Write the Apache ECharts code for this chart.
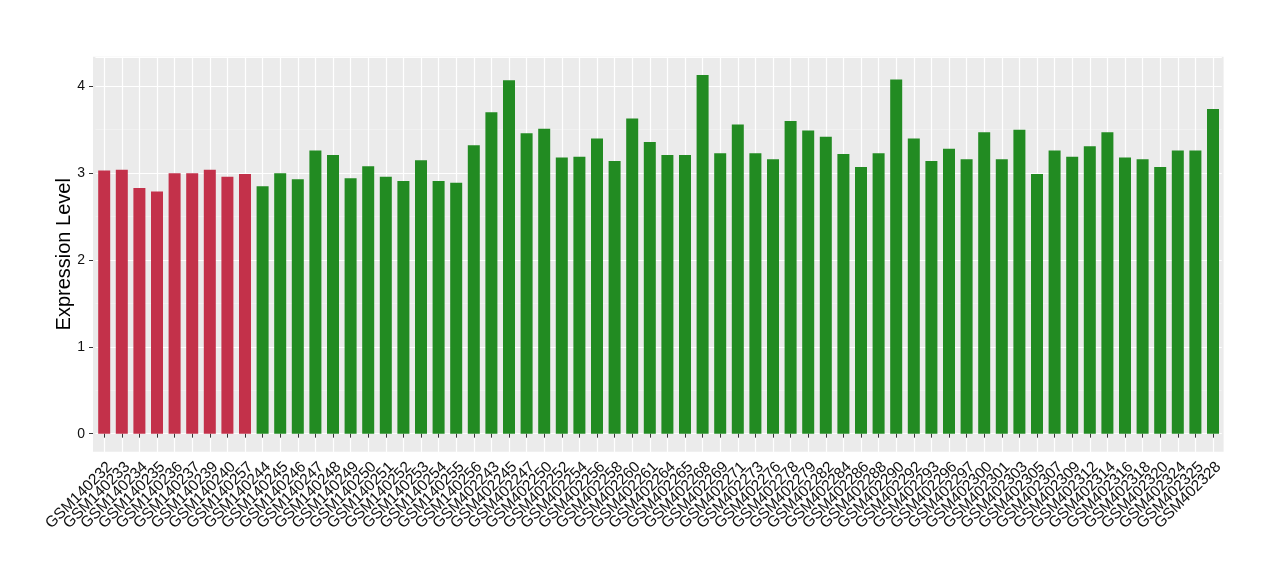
<!DOCTYPE html>
<html>
<head>
<meta charset="utf-8">
<script src="https://cdn.jsdelivr.net/npm/echarts@6/dist/echarts.min.js"></script>
<style>
html,body{margin:0;padding:0;background:#fff;}
#chart{width:1280px;height:580px;}
</style>
</head>
<body>
<div id="chart"></div>
<script>
const categories = [
  "GSM140232","GSM140233","GSM140234","GSM140235","GSM140236","GSM140237","GSM140239","GSM140240","GSM140257",
  "GSM140244","GSM140245","GSM140246","GSM140247","GSM140248","GSM140249","GSM140250","GSM140251","GSM140252",
  "GSM140253","GSM140254","GSM140255","GSM140256",
  "GSM402243","GSM402245","GSM402247","GSM402250","GSM402252","GSM402254","GSM402256","GSM402258","GSM402260",
  "GSM402261","GSM402264","GSM402265","GSM402268","GSM402269","GSM402271","GSM402273","GSM402276","GSM402278",
  "GSM402279","GSM402282","GSM402284","GSM402286","GSM402288","GSM402290","GSM402292","GSM402293","GSM402296",
  "GSM402297","GSM402300","GSM402301","GSM402303","GSM402305","GSM402307","GSM402309","GSM402312","GSM402314",
  "GSM402316","GSM402318","GSM402320","GSM402324","GSM402325","GSM402328"
];
const values = [
  3.03,3.04,2.83,2.79,3.00,3.00,3.04,2.96,2.99,
  2.85,3.00,2.93,3.26,3.21,2.94,3.08,2.96,2.91,
  3.15,2.91,2.89,3.32,
  3.70,4.07,3.46,3.51,3.18,3.19,3.40,3.14,3.63,
  3.36,3.21,3.21,4.13,3.23,3.56,3.23,3.16,3.60,
  3.49,3.42,3.22,3.07,3.23,4.08,3.40,3.14,3.28,
  3.16,3.47,3.16,3.50,2.99,3.26,3.19,3.31,3.47,
  3.18,3.16,3.07,3.26,3.26,3.74
];
const groupCount = 9; // first 9 samples are the red group
const groupColors = ["#C3314A", "#228B22"];
const yTitle = "Expression Level";

const chart = echarts.init(document.getElementById('chart'));
const FONT = "'Liberation Sans', Arial, Helvetica, sans-serif";
const barData = values.map((v, i) => ({
  value: v,
  itemStyle: { color: i < groupCount ? groupColors[0] : groupColors[1] }
}));

chart.setOption({
  animation: false,
  backgroundColor: '#ffffff',
  textStyle: { fontFamily: FONT },
  graphic: [{
    type: 'rect', z: -10, silent: true,
    shape: { x: 93.0, y: 56.8, width: 1130.6, height: 395 },
    style: { fill: '#EBEBEB' }
  }, {
    type: 'text', silent: true,
    x: 64.5, y: 254.3, rotation: Math.PI / 2,
    style: { text: yTitle, fontSize: 20, fill: '#000000', fontFamily: FONT, align: 'center', verticalAlign: 'middle' }
  }],
  grid: { left: 95.4, right: 58.2, top: 56.8, bottom: 128.1, containLabel: false },
  xAxis: {
    type: 'category',
    data: categories,
    boundaryGap: true,
    axisLine: { show: false },
    axisTick: { show: true, alignWithLabel: true, length: 4, lineStyle: { color: '#333333', width: 1 }, interval: 0 },
    axisLabel: { interval: 0, rotate: 45, fontSize: 15.5, color: '#111111', fontFamily: FONT, margin: 7, verticalAlign: 'top' },
    splitLine: { show: true, alignWithLabel: true, interval: 0, lineStyle: { color: '#ffffff', width: 1.2 } }
  },
  yAxis: {
    type: 'value',
    min: -0.21,
    max: 4.34,
    offset: 2.4,
    axisLine: { show: false },
    axisTick: { show: true, length: 4, lineStyle: { color: '#333333' } },
    axisLabel: { fontSize: 14, color: '#111111', fontFamily: FONT, margin: 8, showMinLabel: false, showMaxLabel: false },
    splitLine: { show: true, lineStyle: { color: '#ffffff', width: 1.2 } },
    minorTick: { show: false, splitNumber: 2 },
    minorSplitLine: { show: true, lineStyle: { color: '#F5F5F5', width: 0.6 } }
  },
  series: [{
    type: 'bar',
    data: barData,
    barWidth: 12
  }]
});
</script>
</body>
</html>
